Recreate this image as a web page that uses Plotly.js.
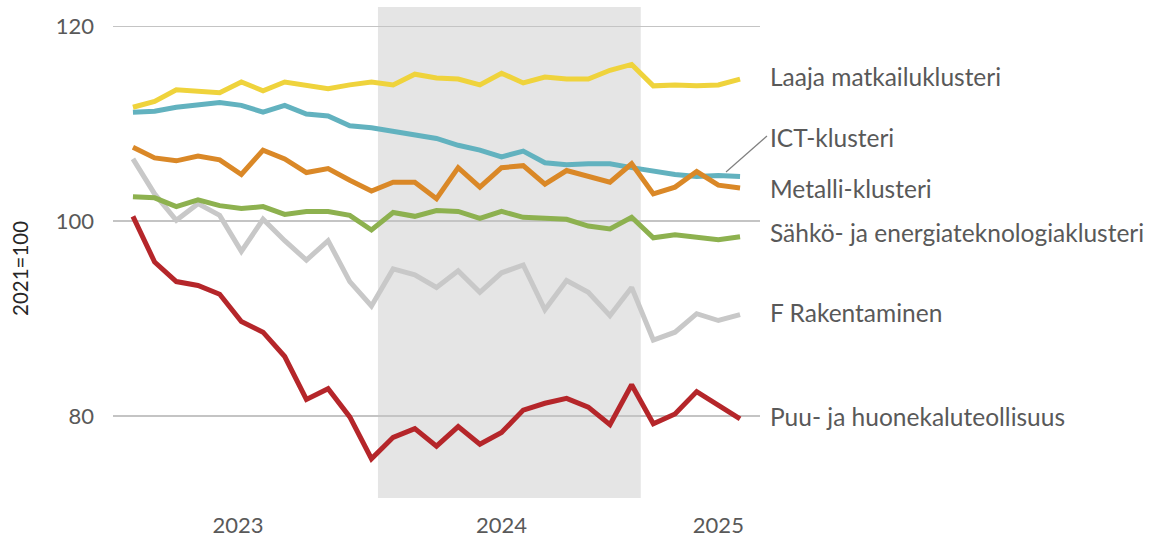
<!DOCTYPE html>
<html>
<head>
<meta charset="utf-8">
<script src="https://cdn.plot.ly/plotly-3.0.1.min.js"></script>
<style>
  html, body { margin: 0; padding: 0; background: #ffffff; }
  #chart { width: 1154px; height: 539px; }
</style>
</head>
<body>
<div id="chart"></div>
<script>
// Monthly observations (index positions along the x axis)
const months = [
  "1","2","3","4","5","6","7","8","9","10","11","12",
  "13","14","15","16","17","18","19","20","21","22","23","24",
  "25","26","27","28","29"
];

const matkailu = [111.7,112.3,113.5,113.4,113.2,114.3,113.4,114.3,113.9,113.6,114.0,114.3,114.0,115.1,114.7,
                  114.6,114.0,115.2,114.2,114.8,114.6,114.6,115.5,116.1,113.9,114.0,113.9,114.0,114.6];
const ict      = [111.2,111.3,111.7,111.9,112.2,111.9,111.2,111.9,111.0,110.8,109.8,109.6,109.2,108.8,108.5,
                  107.8,107.3,106.6,107.2,106.0,105.8,105.9,105.9,105.5,105.1,104.8,104.6,104.7,104.6];
const metalli  = [107.6,106.5,106.2,106.7,106.3,104.8,107.3,106.4,105.0,105.4,104.2,103.1,104.0,104.0,102.3,
                  105.5,103.5,105.5,105.7,103.8,105.2,104.6,104.0,105.9,102.8,103.5,105.1,103.7,103.4];
const sahko    = [102.5,102.4,101.5,102.2,101.6,101.3,101.5,100.7,101.0,101.0,100.6,99.1,100.9,100.5,101.1,
                  101.0,100.3,101.0,100.4,100.3,100.2,99.5,99.2,100.4,98.3,98.6,98.4,98.1,98.4];
const rakentaminen = [106.4,102.8,100.1,101.8,100.6,96.9,100.2,98.0,96.0,98.0,93.8,91.3,95.1,94.5,93.2,
                  94.9,92.7,94.7,95.5,90.9,93.9,92.7,90.3,93.2,87.8,88.6,90.5,89.8,90.4];
const puu      = [100.5,95.8,93.8,93.4,92.5,89.7,88.6,86.1,81.7,82.8,79.9,75.6,77.8,78.7,76.9,
                  78.9,77.1,78.3,80.6,81.3,81.8,80.9,79.1,83.2,79.2,80.2,82.5,81.1,79.7];

const seriesNames = ["F Rakentaminen","Puu- ja huonekaluteollisuus","ICT-klusteri",
                     "Laaja matkailuklusteri","Sähkö- ja energiateknologiaklusteri","Metalli-klusteri"];
const seriesData  = [rakentaminen, puu, ict, matkailu, sahko, metalli];
const seriesColors = ["#C8C8C8","#B5262A","#62B2BF","#EFD33C","#8DB14F","#DA8827"];

// End labels (text, y level)
const labelTexts = ["Laaja matkailuklusteri","ICT-klusteri","Metalli-klusteri",
                    "Sähkö- ja energiateknologiaklusteri","F Rakentaminen","Puu- ja huonekaluteollisuus"];
const labelLevels = [114.9,108.6,103.4,98.8,90.65,79.95];

// Year tick labels
const yearTickPos = [4.85, 17.0, 27.0];
const yearTickText = ["2023","2024","2025"];

// Shaded period (x index span)
const shadeSpan = [11.3, 23.42];

const yTitle = "2021=100";

const xIdx = months.map((_, i) => i);
const FONT = "Lato, 'Open Sans', sans-serif";

const traces = seriesData.map((vals, k) => ({
  type: "scatter",
  mode: "lines",
  x: xIdx,
  y: vals,
  name: seriesNames[k],
  line: { color: seriesColors[k], width: 5 },
  hoverinfo: "skip"
}));

const annotations = labelTexts.map((t, k) => ({
  xref: "paper", yref: "y",
  x: 1.0125, y: labelLevels[k],
  xanchor: "left", yanchor: "middle",
  text: t, showarrow: false,
  font: { family: FONT, size: 24.5, color: "#595959" }
}));
annotations.push({
  xref: "paper", yref: "paper",
  x: (20 - 113) / 647, y: (498 - 269) / 491,
  xanchor: "center", yanchor: "middle",
  textangle: -90,
  text: yTitle, showarrow: false,
  font: { family: FONT, size: 20.5, color: "#262626" }
});

const layout = {
  width: 1154, height: 539,
  margin: { l: 113, r: 394, t: 7, b: 41 },
  paper_bgcolor: "#ffffff",
  plot_bgcolor: "rgba(0,0,0,0)",
  showlegend: false,
  font: { family: FONT, size: 22, color: "#595959" },
  xaxis: {
    range: [-0.92, 28.92],
    tickmode: "array",
    tickvals: yearTickPos,
    ticktext: yearTickText,
    showgrid: false, zeroline: false, showline: false,
    ticks: "", ticklabelstandoff: 12,
    tickfont: { family: FONT, size: 22, color: "#595959" }
  },
  yaxis: {
    range: [71.57, 122.0],
    tickmode: "array",
    tickvals: [80, 100, 120],
    showgrid: true, gridcolor: "#C4C4C4", gridwidth: 1.5,
    zeroline: false, showline: false,
    ticks: "", ticklabelstandoff: 18,
    tickfont: { family: FONT, size: 22, color: "#595959" }
  },
  shapes: [
    {
      type: "rect", layer: "below",
      xref: "x", yref: "paper",
      x0: shadeSpan[0], x1: shadeSpan[1], y0: 0, y1: 1,
      fillcolor: "#E5E5E5", line: { width: 0 }
    },
    {
      type: "line", layer: "above",
      xref: "paper", yref: "paper",
      x0: (726 - 113) / 647, y0: (498 - 172) / 491,
      x1: (767 - 113) / 647, y1: (498 - 136) / 491,
      line: { color: "#808080", width: 1.2 }
    }
  ],
  annotations: annotations
};

Plotly.newPlot("chart", traces, layout, { displayModeBar: false, staticPlot: true });
</script>
</body>
</html>
